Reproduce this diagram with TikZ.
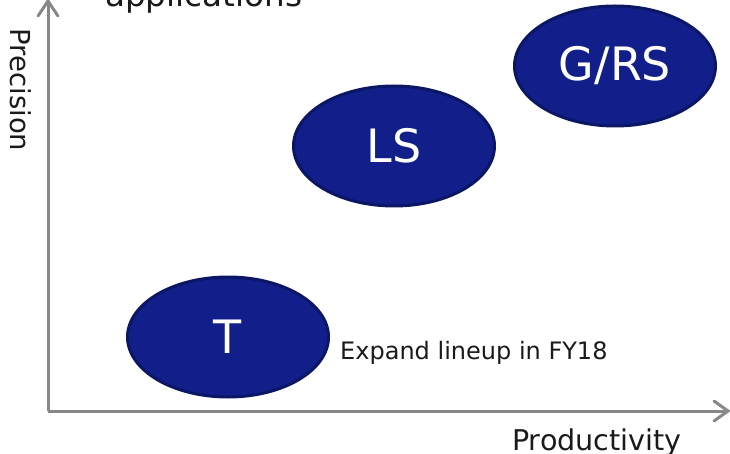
\documentclass[tikz,border=0pt]{standalone}
\usepackage{fontspec}
\usetikzlibrary{shapes.geometric,calc}
\setmainfont{DejaVu Sans}
\definecolor{navy}{RGB}{18,31,138}
\definecolor{navyedge}{RGB}{11,22,100}
\definecolor{axisgray}{RGB}{136,136,136}
\definecolor{labelcol}{RGB}{26,26,26}
\begin{document}
\begin{tikzpicture}[x=1pt,y=-1pt,
  blob/.style={ellipse,fill=navy,draw=navyedge,line width=3pt,minimum width=201pt,minimum height=120pt,inner sep=0pt,text=white,font=\fontsize{46}{46}\selectfont},
  axisline/.style={draw=axisgray,line width=3pt},
  lbl/.style={text=labelcol,inner sep=0pt}]
\useasboundingbox (0,0) rectangle (730,454);
\coordinate (o) at (48,411);
\coordinate (ytip) at (48,1);
\coordinate (xtip) at (728,411);
\draw[axisline] (o) -- (ytip);
\draw[axisline] (o) -- (xtip);
\draw[axisline,line cap=round,line join=miter] ($(ytip)+(-10,15)$) -- (ytip) -- ($(ytip)+(10,15)$);
\draw[axisline,line cap=round,line join=miter] ($(xtip)+(-14,-10)$) -- (xtip) -- ($(xtip)+(-14,10)$);
\node[blob] (grs) at (615,66) {G/RS};
\node[blob] (ls) at (394,146) {LS};
\node[blob] (t) at (228,337) {T};
\node[lbl,anchor=base west,font=\fontsize{32.6}{32.6}\selectfont] (title) at (105,7) {applications};
\node[lbl,anchor=base west,font=\fontsize{24}{24}\selectfont] (exp) at (340,359) {Expand lineup in FY18};
\node[lbl,anchor=base west,font=\fontsize{28.6}{28.6}\selectfont] (prod) at (512,450) {Productivity};
\node[lbl,rotate=-90,font=\fontsize{27.5}{27.5}\selectfont] (prec) at (21,90) {Precision};
\end{tikzpicture}
\end{document}
